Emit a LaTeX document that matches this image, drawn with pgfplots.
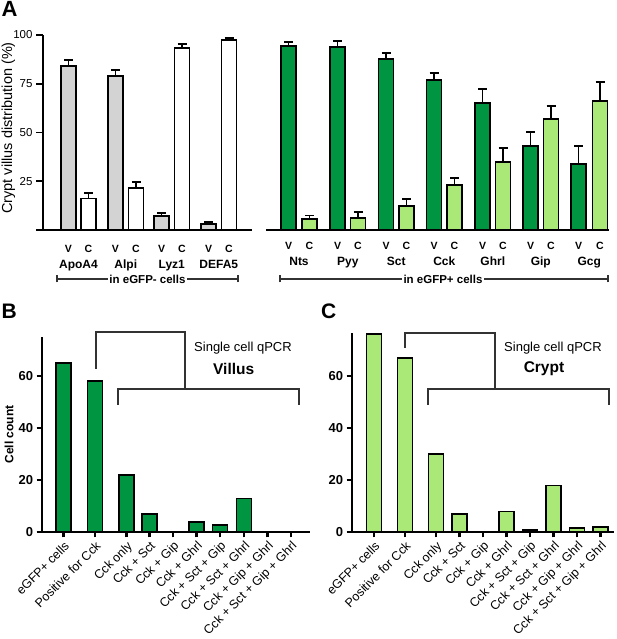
\documentclass[border=0pt]{standalone}
\usepackage{fontspec}
\setmainfont{Liberation Sans}
\usepackage{pgfplots}
\usepackage{pgfplotstable}
\pgfplotsset{compat=1.18}
\newcommand\fs[1]{\fontsize{#1}{#1}\selectfont}
\definecolor{dkgreen}{RGB}{0,150,65}
\definecolor{ltgreen}{RGB}{170,232,120}
\definecolor{barGray}{RGB}{211,211,211}
\definecolor{lineGray}{RGB}{50,50,50}

\pgfplotstableread{
x y e
68.5 84.3 2.9
115.5 79.0 3.0
161.5 7.2 1.7
208.5 3.1 1.2
}\AV
\pgfplotstableread{
x y e
88.5 16.2 2.9
136 21.4 3.4
182 93.2 2.2
229 97.4 0.9
}\AC
\pgfplotstableread{
x y e
288.5 94.4 2.0
337.5 94.0 2.9
386 87.7 3.2
434 76.9 3.8
482.5 65.0 7.3
530.5 43.2 6.9
578.5 33.7 9.4
}\BV
\pgfplotstableread{
x y e
309.5 5.5 1.9
358 6.2 3.0
406.5 12.5 3.4
454.5 23.2 3.6
503 34.9 7.0
551 56.8 6.8
600 66.2 9.5
}\BC
\pgfplotstableread{
x y
63.5 65
95 58
126.5 22
149.5 7
173 0
196.5 4
220 2.7
244 13
267.5 0
291 0
}\Vil
\pgfplotstableread{
x y
374 76
405 67
436 30
459.5 7
483 0
506.5 8
530 1
553.5 18
577 1.5
600.5 2
}\Cry

\pgfplotsset{
  every axis/.append style={scale only axis, clip=false,
    /pgf/number format/assume math mode=true,
    axis line style={line width=1.7pt, black},
    tick align=outside},
  barA/.style={ybar, bar shift=0pt, bar width=15, draw=black, line width=1.8pt,
    error bars/y dir=plus, error bars/y explicit,
    error bars/error bar style={line width=1.8pt, black},
    error bars/error mark options={rotate=90, mark size=4.5pt, line width=1.8pt, black}},
  barB/.style={ybar, bar shift=0pt, bar width=15, draw=black, line width=1.8pt},
  catlabels/.style={
    xticklabels={eGFP+ cells,Positive for Cck,Cck only,Cck + Sct,Cck + Gip,Cck + Ghrl,Cck + Sct + Gip,Cck + Sct + Ghrl,Cck + Gip + Ghrl,Cck + Sct + Gip + Ghrl},
    xticklabel style={rotate=45, anchor=north east, font=\fs{12.5}, inner sep=2pt},
    x tick style={line width=2.2pt, black}, major tick length=5pt,
    y tick style={line width=1.7pt, black},
    yticklabel style={font=\bfseries\fs{13}},
    ytick={0,20,40,60}},
}

\begin{document}
\begin{tikzpicture}
\useasboundingbox (0,0) rectangle (616pt,639pt);

% ---------- Panel A left ----------
\begin{axis}[at={(43pt,409pt)}, anchor=south west,
  width=209pt, height=195pt,
  xmin=43, xmax=252, ymin=0, ymax=100,
  axis x line*=bottom, axis y line*=left,
  ytick={0,25,50,75,100}, yticklabels={,25,50,75,100},
  major tick length=7pt,
  y tick style={line width=1.7pt, black},
  yticklabel style={font=\fs{11.5}},
  xtick={68.5,88.5,115.5,136,161.5,182,208.5,229},
  xticklabels={V,C,V,C,V,C,V,C},
  x tick style={draw=none},
  xticklabel style={font=\bfseries\fs{10.5}, yshift=-4.5pt},
  extra x ticks={78.5,125.75,171.75,218.75},
  extra x tick labels={ApoA4,Alpi,Lyz1,DEFA5},
  extra x tick style={xticklabel style={font=\bfseries\fs{12}, yshift=-15pt}},
  ylabel={Crypt villus distribution (\%)},
  ylabel style={at={(axis description cs:-0.166,0.523)}, anchor=center, font=\fs{14.5}},
]
\addplot[barA, fill=barGray] table[x=x,y=y,y error=e] {\AV};
\addplot[barA, fill=white] table[x=x,y=y,y error=e] {\AC};
\end{axis}

% ---------- Panel A right ----------
\begin{axis}[at={(266pt,409pt)}, anchor=south west,
  width=343pt, height=195pt,
  xmin=266, xmax=609, ymin=0, ymax=100,
  axis x line*=bottom, hide y axis,
  xtick={288.5,309.5,337.5,358,386,406.5,434,454.5,482.5,503,530.5,551,578.5,600},
  xticklabels={V,C,V,C,V,C,V,C,V,C,V,C,V,C},
  x tick style={draw=none},
  xticklabel style={font=\bfseries\fs{10.5}, yshift=-4.5pt},
  extra x ticks={299,347.75,396.25,444.25,492.75,540.75,589.25},
  extra x tick labels={Nts,Pyy,Sct,Cck,Ghrl,Gip,Gcg},
  extra x tick style={xticklabel style={font=\bfseries\fs{12}, yshift=-15pt}},
]
\addplot[barA, fill=dkgreen] table[x=x,y=y,y error=e] {\BV};
\addplot[barA, fill=ltgreen] table[x=x,y=y,y error=e] {\BC};
\end{axis}

% brackets A
\draw[line width=1.3pt, lineGray] (57pt,360pt) -- (238pt,360pt);
\draw[line width=1.3pt, lineGray] (57pt,356.5pt) -- (57pt,363.5pt);
\draw[line width=1.3pt, lineGray] (238pt,356.5pt) -- (238pt,363.5pt);
\node[fill=white, inner sep=1.5pt, font=\bfseries\fs{11.5}] at (147.5pt,360pt) {in eGFP- cells};
\draw[line width=1.3pt, lineGray] (280pt,360pt) -- (608pt,360pt);
\draw[line width=1.3pt, lineGray] (280pt,356.5pt) -- (280pt,363.5pt);
\draw[line width=1.3pt, lineGray] (608pt,356.5pt) -- (608pt,363.5pt);
\node[fill=white, inner sep=1.5pt, font=\bfseries\fs{11.5}] at (443pt,360pt) {in eGFP+ cells};

% ---------- Panel B ----------
\begin{axis}[at={(41.7pt,106.7pt)}, anchor=south west,
  width=268.3pt, height=195.3pt,
  xmin=41.7, xmax=310, ymin=0, ymax=75,
  axis x line*=bottom, axis y line*=left,
  xtick={63.5,95,126.5,149.5,173,196.5,220,244,267.5,291},
  catlabels,
  ylabel={Cell count},
  ylabel style={at={(axis description cs:-0.122,0.5)}, anchor=center, font=\bfseries\fs{12}},
]
\addplot[barB, fill=dkgreen] table[x=x,y=y] {\Vil};
\end{axis}

% ---------- Panel C ----------
\begin{axis}[at={(351.7pt,106.7pt)}, anchor=south west,
  width=262.3pt, height=199.2pt,
  xmin=351.7, xmax=614, ymin=0, ymax=76.5,
  axis x line*=bottom, axis y line*=left,
  xtick={374,405,436,459.5,483,506.5,530,553.5,577,600.5},
  catlabels,
]
\addplot[barB, fill=ltgreen] table[x=x,y=y] {\Cry};
\end{axis}

% brackets B
\draw[line width=1.8pt, lineGray] (95.7pt,270pt) -- (95.7pt,307pt) -- (185pt,307pt) -- (185pt,250pt);
\draw[line width=1.8pt, lineGray] (118pt,234pt) -- (118pt,250pt) -- (299pt,250pt) -- (299pt,234pt);
\node[font=\fs{13}] at (243pt,291pt) {Single cell qPCR};
\node[font=\bfseries\fs{15.5}] at (233.7pt,270pt) {Villus};
% brackets C
\draw[line width=1.8pt, lineGray] (405pt,291pt) -- (405pt,306pt) -- (495pt,306pt) -- (495pt,250pt);
\draw[line width=1.8pt, lineGray] (428pt,234pt) -- (428pt,250pt) -- (609pt,250pt) -- (609pt,234pt);
\node[font=\fs{13}] at (553pt,291pt) {Single cell qPCR};
\node[font=\bfseries\fs{15.5}] at (544pt,270pt) {Crypt};

% panel letters
\node[anchor=base west, inner sep=0pt, font=\bfseries\fs{22}] at (1.5pt,622.3pt) {A};
\node[anchor=base west, inner sep=0pt, font=\bfseries\fs{21}] at (1.5pt,320.7pt) {B};
\node[anchor=base west, inner sep=0pt, font=\bfseries\fs{21}] at (321pt,320.7pt) {C};
\end{tikzpicture}
\end{document}
